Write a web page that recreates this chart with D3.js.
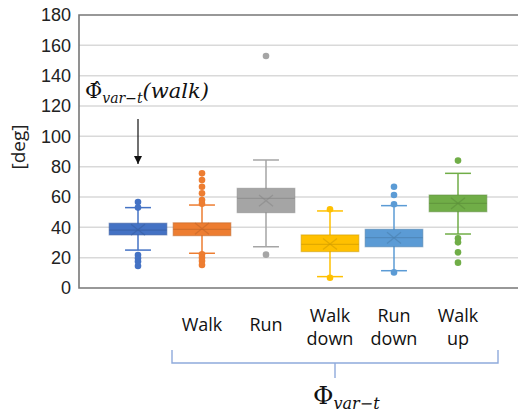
<!DOCTYPE html>
<html>
<head>
<meta charset="utf-8">
<script src="https://cdn.jsdelivr.net/npm/d3@7"></script>
<style>
  body { margin: 0; background: #fff; }
  svg { display: block; font-family: "Open Sans", "Liberation Sans", sans-serif; }
  .tick text { font-size: 18px; fill: #222; }
  .cat { font-size: 18px; fill: #111; }
  .math { font-family: "DejaVu Serif", "Liberation Serif", serif; fill: #111; }
</style>
</head>
<body>
<svg id="chart" width="518" height="419"></svg>
<script>
const series = ["walkHat", "Walk", "Run", "Walk down", "Run down", "Walk up"];
const labels = [[], ["Walk"], ["Run"], ["Walk", "down"], ["Run", "down"], ["Walk", "up"]];
const colors = ["#4472C4", "#ED7D31", "#A5A5A5", "#FFC000", "#5B9BD5", "#70AD47"];
const q1 = [35, 34.5, 49.7, 24, 27.2, 50.3];
const median = [38.2, 38.7, 59.1, 28.8, 33.2, 55.8];
const q3 = [42.7, 43, 65.7, 35, 38.7, 61.3];
const mean = [38.4, 39.2, 57.6, 29, 33, 55.8];
const whiskerLow = [25, 22.9, 27.2, 7.5, 11.4, 35.6];
const whiskerHigh = [53, 54.7, 84.4, 50.8, 54.3, 75.6];
const outliers = [
  [56.7, 53, 21.8, 19.6, 17.4, 14.5],
  [75.6, 71.2, 66.8, 62.4, 58, 55.5, 22.2, 20, 17.8, 15.2],
  [153, 22],
  [51.9, 6.8],
  [66.8, 61.3, 55.2, 10.3],
  [84, 32.8, 30.1, 23.5, 16.7]
];
const yTicks = [0, 20, 40, 60, 80, 100, 120, 140, 160, 180];

const plot = { left: 79, right: 518, top: 15, bottom: 288 };

const svg = d3.select("#chart");

const y = d3.scaleLinear().domain([0, 180]).range([plot.bottom, plot.top]);
const x = d3.scaleBand().domain(series).range([106, 490]).paddingInner(0.1).paddingOuter(0.05);

// gridlines
svg.append("g")
  .selectAll("line")
  .data(yTicks.filter(t => t > 0 && t < 180))
  .join("line")
  .attr("x1", plot.left).attr("x2", plot.right)
  .attr("y1", d => y(d)).attr("y2", d => y(d))
  .attr("stroke", "#d9d9d9").attr("stroke-width", 1.5);

// y axis
const yAxis = svg.append("g")
  .attr("transform", `translate(${plot.left},0)`)
  .call(d3.axisLeft(y).tickValues(yTicks).tickSize(0).tickPadding(8));
yAxis.select(".domain").remove();

// frame
svg.append("path")
  .attr("d", `M${plot.right},${plot.top}H${plot.left}V${plot.bottom}H${plot.right}`)
  .attr("fill", "none").attr("stroke", "#777").attr("stroke-width", 1.6);

svg.append("text")
  .attr("transform", "rotate(-90)")
  .attr("x", -147).attr("y", 25)
  .attr("text-anchor", "middle")
  .attr("font-size", 19).attr("fill", "#222")
  .text("[deg]");

// boxes
const bw = x.bandwidth();
const capW = bw * 0.45;
series.forEach((s, i) => {
  const g = svg.append("g");
  const cx = x(s) + bw / 2;
  const col = colors[i];
  const dark = d3.color(col).darker(0.6);

  g.append("line")
    .attr("x1", cx).attr("x2", cx)
    .attr("y1", y(whiskerHigh[i])).attr("y2", y(whiskerLow[i]))
    .attr("stroke", col).attr("stroke-width", 1.5);
  [whiskerHigh[i], whiskerLow[i]].forEach(v => {
    g.append("line")
      .attr("x1", cx - capW / 2).attr("x2", cx + capW / 2)
      .attr("y1", y(v)).attr("y2", y(v))
      .attr("stroke", col).attr("stroke-width", 1.5);
  });

  g.append("rect")
    .attr("x", x(s)).attr("width", bw)
    .attr("y", y(q3[i])).attr("height", y(q1[i]) - y(q3[i]))
    .attr("fill", col).attr("stroke", dark).attr("stroke-opacity", 0.5).attr("stroke-width", 1.2);

  g.append("line")
    .attr("x1", x(s)).attr("x2", x(s) + bw)
    .attr("y1", y(median[i])).attr("y2", y(median[i]))
    .attr("stroke", dark).attr("stroke-opacity", 0.6).attr("stroke-width", 1.3);

  const my = y(mean[i]), r = 7;
  g.append("path")
    .attr("d", `M${cx - r},${my - r * 0.8}L${cx + r},${my + r * 0.8}M${cx - r},${my + r * 0.8}L${cx + r},${my - r * 0.8}`)
    .attr("stroke", dark).attr("stroke-opacity", 0.55).attr("stroke-width", 1.3);

  g.selectAll("circle")
    .data(outliers[i])
    .join("circle")
    .attr("cx", cx).attr("cy", d => y(d))
    .attr("r", 3.3).attr("fill", col);
});

// category labels
series.forEach((s, i) => {
  const lines = labels[i];
  const cx = x(s) + x.bandwidth() / 2;
  const t = svg.append("text").attr("class", "cat").attr("text-anchor", "middle");
  const y0 = lines.length === 1 ? 331 : 322;
  lines.forEach((l, k) => {
    t.append("tspan").attr("x", cx).attr("y", y0 + k * 23).text(l);
  });
});

// bracket
const bl = 172, br = 498, by = 363, bc = (bl + br) / 2;
svg.append("path")
  .attr("d", `M${bl},350V${by}H${br}V350M${bc},${by}V378`)
  .attr("fill", "none").attr("stroke", "#8FAADC").attr("stroke-width", 1.4);

const bottomLabel = svg.append("text").attr("class", "math")
  .attr("x", 313).attr("y", 404);
bottomLabel.append("tspan").attr("font-size", 25).text("Φ");
bottomLabel.append("tspan").attr("font-size", 16).attr("font-style", "italic").attr("dy", 5).text("var−t");

// annotation
const ann = svg.append("text").attr("class", "math").attr("x", 85).attr("y", 98);
ann.append("tspan").attr("font-size", 21).text("Φ̂");
ann.append("tspan").attr("font-size", 14).attr("font-style", "italic").attr("dy", 5).text("var−t");
ann.append("tspan").attr("font-size", 21).attr("font-style", "italic").attr("dy", -5).text("(walk)");

svg.append("defs").append("marker")
  .attr("id", "arrow").attr("viewBox", "0 0 10 10")
  .attr("refX", 10).attr("refY", 5)
  .attr("markerWidth", 7).attr("markerHeight", 7)
  .attr("orient", "auto")
  .append("path").attr("d", "M0,0L10,5L0,10Z").attr("fill", "#111");

const ax = x(series[0]) + bw / 2;
svg.append("line")
  .attr("x1", ax).attr("x2", ax)
  .attr("y1", 119).attr("y2", 164)
  .attr("stroke", "#111").attr("stroke-width", 1.2)
  .attr("marker-end", "url(#arrow)");
</script>
</body>
</html>
